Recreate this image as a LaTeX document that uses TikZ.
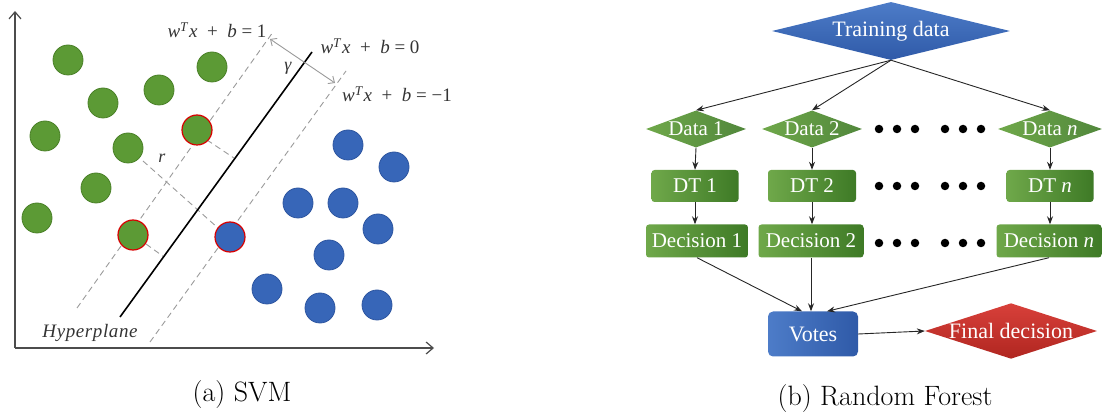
\documentclass[tikz,border=0pt]{standalone}
\usepackage{fontspec}
\newfontfamily\tms[Ligatures=TeX]{Liberation Serif}
\usetikzlibrary{shapes.geometric,arrows.meta}
\definecolor{dgreen}{HTML}{5C9A35}
\definecolor{dgreenE}{HTML}{4A8028}
\definecolor{dblue}{HTML}{3766B8}
\definecolor{dblueE}{HTML}{2E56A0}
\definecolor{boxG1}{HTML}{6FA84A}
\definecolor{boxG2}{HTML}{3E7A26}
\definecolor{blueA}{HTML}{4D7CC8}
\definecolor{blueB}{HTML}{2F5AA8}
\definecolor{redA}{HTML}{D8403A}
\definecolor{redB}{HTML}{B02620}
\definecolor{lgray}{HTML}{9A9A9A}
\definecolor{txt}{HTML}{333333}
\tikzset{
  gpt/.style={circle,minimum size=30pt,inner sep=0pt,fill=dgreen,draw=dgreenE,line width=0.8pt},
  bpt/.style={circle,minimum size=30pt,inner sep=0pt,fill=dblue,draw=dblueE,line width=0.8pt},
  sv/.style={draw=red!85!black,line width=1.2pt},
  margin/.style={draw=lgray,line width=0.9pt,dash pattern=on 6pt off 4pt},
  perp/.style={draw=lgray,line width=0.9pt,dash pattern=on 6pt off 4pt},
  eq/.style={text=txt,font=\tms\fontsize{19}{21}\selectfont,inner sep=0pt},
  axis/.style={draw=black!70,line width=1.2pt,-{Straight Barb[length=7pt,width=12pt]}},
  gdia/.style={diamond,aspect=2.7,inner sep=0pt,minimum width=100pt,minimum height=37pt,left color=boxG1,right color=boxG2!90,text=white,font=\tms\fontsize{21}{22}\selectfont},
  gbox/.style={rectangle,rounded corners=3pt,inner sep=0pt,minimum height=32pt,left color=boxG1,right color=boxG2,text=white,font=\tms\fontsize{21}{22}\selectfont},
  dot/.style={circle,fill=black,inner sep=0pt,minimum size=8.5pt},
  arr/.style={draw=black!85,line width=0.9pt,-{Stealth[length=8pt,width=6pt]}},
  captxt/.style={font=\fontsize{28}{30}\selectfont,inner sep=0pt,anchor=base}
}
\newcommand{\wtx}[1]{\itshape w\textsuperscript{\itshape T}\kern1pt x\upshape\ \ +\ \ \itshape b\upshape\ =\ #1}
\begin{document}
\begin{tikzpicture}[x=1pt,y=-1pt]
\useasboundingbox (0,0) rectangle (1103,419);
% ---------------- SVM ----------------
\coordinate (o) at (15,348);
\coordinate (ytop) at (15,11);
\coordinate (xend) at (434,348);
\draw[axis] (o) -- (ytop);
\draw[axis] (o) -- (xend);
% margins
\coordinate (mp1) at (77,308);
\coordinate (mp2) at (273,32);
\coordinate (mn1) at (150,342);
\coordinate (mn2) at (346,71);
\coordinate (h1) at (120,317);
\coordinate (h2) at (312,52);
\draw[margin] (mp1) -- (mp2);
\draw[margin] (mn1) -- (mn2);
% perpendicular dashed
\coordinate (pa1) at (207,140);
\coordinate (pa2) at (234,158);
\coordinate (pb1) at (146,244);
\coordinate (pb2) at (164,257);
\coordinate (pc1) at (143,161);
\coordinate (pc2) at (218,228);
\draw[perp] (pa1) -- (pa2);
\draw[perp] (pb1) -- (pb2);
\draw[perp] (pc1) -- (pc2);
% hyperplane
\draw[line width=1.6pt,black] (h1) -- (h2);
% gamma arrow
\coordinate (g1) at (270,39);
\coordinate (g2) at (335,83);
\draw[draw=lgray,line width=0.9pt,{Straight Barb[length=5pt,width=9pt]}-{Straight Barb[length=5pt,width=9pt]}] (g1) -- (g2);
\node[eq,font=\tms\itshape\fontsize{18}{20}\selectfont] (gam) at (288,68) {γ};
\node[eq,font=\tms\itshape\fontsize{18}{20}\selectfont] (rl) at (162,158) {r};
% labels
\node[eq,anchor=base] (e1) at (217,38) {\wtx{1}};
\node[eq,anchor=base] (e0) at (370,54) {\wtx{0}};
\node[eq,anchor=base] (em) at (397,102) {\wtx{−1}};
\node[eq,anchor=base,font=\tms\itshape\fontsize{19}{21}\selectfont] (hyp) at (90,338) {H\kern0.6pt y\kern0.6pt p\kern0.6pt e\kern0.6pt r\kern0.6pt p\kern0.6pt l\kern0.6pt a\kern0.6pt n\kern0.6pt e};
% green points
\node[gpt] (g01) at (68,60) {};
\node[gpt] (g02) at (212,67) {};
\node[gpt] (g03) at (159,90) {};
\node[gpt] (g04) at (103,103) {};
\node[gpt] (g05) at (45,136) {};
\node[gpt,sv] (g06) at (197,130) {};
\node[gpt] (g07) at (128,148) {};
\node[gpt] (g08) at (96,188) {};
\node[gpt] (g09) at (37,218) {};
\node[gpt,sv] (g10) at (133,235) {};
% blue points
\node[bpt] (b01) at (348,145) {};
\node[bpt] (b02) at (394,167) {};
\node[bpt] (b03) at (298,203) {};
\node[bpt] (b04) at (343,203) {};
\node[bpt] (b05) at (378,229) {};
\node[bpt,sv] (b06) at (230,237) {};
\node[bpt] (b07) at (329,255) {};
\node[bpt] (b08) at (267,289) {};
\node[bpt] (b09) at (320,308) {};
\node[bpt] (b10) at (377,305) {};
\node[captxt] (capa) at (242,402) {(a) SVM};
% ---------------- Random forest ----------------
\node[diamond,aspect=4,inner sep=0pt,minimum width=238pt,minimum height=58pt,top color=blueA,bottom color=blueB,text=white,font=\tms\fontsize{22}{24}\selectfont] (train) at (891,31) {Training data};
\node[gdia] (d1) at (696,129) {Data 1};
\node[gdia] (d2) at (812,129) {Data 2};
\node[gdia,minimum width=104pt] (dn) at (1050,129) {Data \itshape n};
\node[gbox,minimum width=87pt] (t1) at (695,186) {DT 1};
\node[gbox,minimum width=88pt] (t2) at (812,186) {DT 2};
\node[gbox,minimum width=87pt] (tn) at (1050,186) {DT \itshape n};
\node[gbox,minimum width=102pt,minimum height=33pt] (c1) at (697,241) {Decision 1};
\node[gbox,minimum width=105pt,minimum height=33pt] (c2) at (811,241) {Decision 2};
\node[gbox,minimum width=105pt,minimum height=33pt] (cn) at (1049,241) {Decision \itshape n};
\node[rectangle,rounded corners=5pt,minimum width=90pt,minimum height=45pt,inner sep=0pt,left color=blueA,right color=blueB,text=white,font=\tms\fontsize{22}{24}\selectfont] (votes) at (813,334) {Votes};
\node[diamond,aspect=3.1,inner sep=0pt,minimum width=172pt,minimum height=55pt,top color=redA,bottom color=redB,text=white,font=\tms\fontsize{22}{24}\selectfont] (final) at (1011,331) {Final decision};
% dots
\foreach \y/\r in {129/a,186/b,243/c}{
  \foreach \x/\i in {879/1,897/2,915/3,945/4,963/5,981/6}{
    \node[dot] (dot\r\i) at (\x,\y) {};
  }
}
% arrows
\draw[arr] (train.south) -- (d1.north);
\draw[arr] (train.south) -- (d2.north);
\draw[arr] (train.south) -- (dn.north);
\draw[arr] (d1.south) -- (t1.north);
\draw[arr] (d2.south) -- (t2.north);
\draw[arr] (dn.south) -- (tn.north);
\draw[arr] (t1.south) -- (t1.south |- c1.north);
\draw[arr] (t2.south) -- (t2.south |- c2.north);
\draw[arr] (tn.south) -- (tn.south |- cn.north);
\draw[arr] (c1.south) -- ([xshift=-11pt]votes.north);
\draw[arr] (c2.south) -- (c2.south |- votes.north);
\draw[arr] (cn.south) -- ([xshift=14pt]votes.north);
\draw[arr] (votes.east) -- (final.west);
\node[captxt] (capb) at (885,406) {(b) Random Forest};
\end{tikzpicture}
\end{document}
